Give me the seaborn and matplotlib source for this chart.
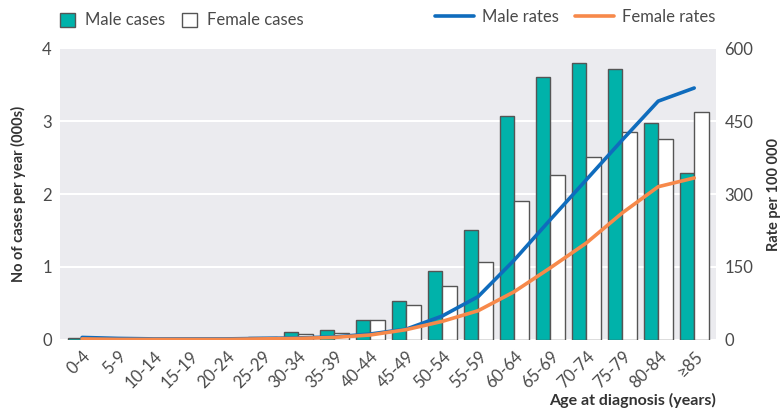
"""
Cases and rates by age at diagnosis, by sex.
"""
import numpy as np
import pandas as pd
import seaborn as sns
import matplotlib.pyplot as plt
from matplotlib.patches import Patch
from matplotlib.lines import Line2D

AGES = ['0-4', '5-9', '10-14', '15-19', '20-24', '25-29', '30-34', '35-39',
        '40-44', '45-49', '50-54', '55-59', '60-64', '65-69', '70-74', '75-79',
        '80-84', '≥85']

MALE_CASES = [0.02, 0.0, 0.0, 0.0, 0.01, 0.04, 0.11, 0.13, 0.27, 0.53, 0.94,
              1.51, 3.07, 3.60, 3.80, 3.72, 2.97, 2.29]
FEMALE_CASES = [0.01, 0.0, 0.0, 0.0, 0.01, 0.04, 0.08, 0.10, 0.27, 0.48, 0.74,
                1.07, 1.90, 2.26, 2.51, 2.85, 2.76, 3.13]

MALE_RATES = [5, 3, 2, 2, 2, 3, 4, 6, 12, 22, 49, 89, 164, 247, 329, 411, 491, 518]
FEMALE_RATES = [2, 1, 1, 1, 1, 2, 3, 5, 10, 21, 38, 60, 99, 148, 199, 261, 315, 333]

TEAL = '#00b2aa'
BLUE = '#0f6cbd'
ORANGE = '#f7894a'
EDGE = '#555555'
TEXT = '#4a4a4a'

sns.set_style('white', {'axes.facecolor': '#ebebef'})
plt.rcParams['font.family'] = ['Lato', 'DejaVu Sans']

cases = pd.DataFrame({'Age': AGES * 2,
                      'Cases': MALE_CASES + FEMALE_CASES,
                      'Sex': ['Male cases'] * len(AGES) + ['Female cases'] * len(AGES)})
rates = pd.DataFrame({'Age': AGES * 2,
                      'Rate': MALE_RATES + FEMALE_RATES,
                      'Sex': ['Male rates'] * len(AGES) + ['Female rates'] * len(AGES)})

fig = plt.figure(figsize=(7.81, 4.08), dpi=100)
ax = fig.add_axes([0.077, 0.167, 0.840, 0.715])

sns.barplot(data=cases, x='Age', y='Cases', hue='Sex', order=AGES,
            palette={'Male cases': TEAL, 'Female cases': 'white'}, saturation=1,
            edgecolor=EDGE, linewidth=1, width=0.8, legend=False, ax=ax)

ax.set_ylim(0, 4)
ax.set_yticks([0, 1, 2, 3, 4])
ax.set_xlim(-0.61, len(AGES) - 0.39)
ax.grid(axis='y', color='white', linewidth=1.5)
ax.set_axisbelow(True)
for s in ax.spines.values():
    s.set_visible(False)
ax.tick_params(length=0, labelsize=12, labelcolor=TEXT, pad=6)
ax.set_xticks(range(len(AGES)))
ax.set_xticklabels(AGES, rotation=45, ha='right', rotation_mode='anchor')
ax.set_ylabel('No of cases per year (000s)', fontsize=10.5, fontweight='bold',
              color='#333333', labelpad=12)
ax.set_xlabel('Age at diagnosis (years)', fontsize=11.5, fontweight='bold',
              color='#333333', loc='right', labelpad=1)

ax2 = ax.twinx()
sns.lineplot(data=rates, x='Age', y='Rate', hue='Sex',
             palette={'Male rates': BLUE, 'Female rates': ORANGE},
             linewidth=2.6, legend=False, ax=ax2)
ax2.set_ylim(0, 600)
ax2.set_yticks([0, 150, 300, 450, 600])
for s in ax2.spines.values():
    s.set_visible(False)
ax2.tick_params(length=0, labelsize=12, labelcolor=TEXT, pad=6)
ax2.set_ylabel('Rate per 100 000', fontsize=10.5, fontweight='bold',
               color='#333333', labelpad=10)
ax2.grid(False)

bar_handles = [Patch(facecolor=TEAL, edgecolor=EDGE), Patch(facecolor='white', edgecolor=EDGE)]
fig.legend(bar_handles, ['Male cases', 'Female cases'], loc='center left',
           bbox_to_anchor=(0.058, 0.95), ncol=2, frameon=False, fontsize=12,
           handlelength=0.9, handleheight=0.9, handletextpad=0.6, columnspacing=1.0,
           labelcolor=TEXT)

line_handles = [Line2D([], [], color=BLUE, linewidth=2.6), Line2D([], [], color=ORANGE, linewidth=2.6)]
fig.legend(line_handles, ['Male rates', 'Female rates'], loc='center left',
           bbox_to_anchor=(0.538, 0.958), ncol=2, frameon=False, fontsize=12,
           handlelength=2.3, handletextpad=0.5, columnspacing=1.0,
           labelcolor=TEXT)

fig.savefig('out.png', dpi=100)
